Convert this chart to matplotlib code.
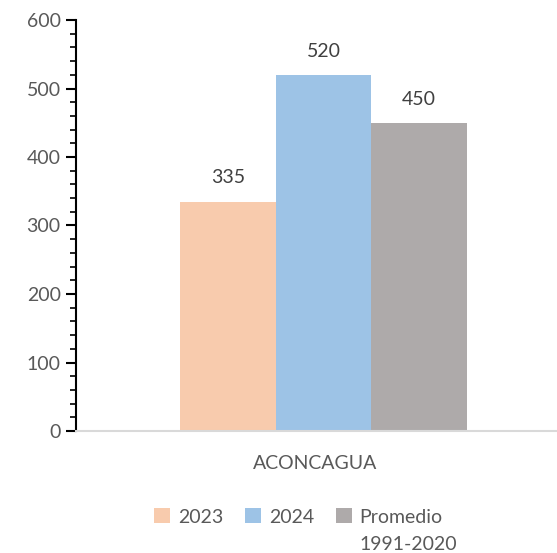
import matplotlib
matplotlib.use("Agg")
import matplotlib.pyplot as plt
from matplotlib.patches import Patch
from matplotlib.ticker import MultipleLocator

plt.rcParams['font.family'] = ['Lato', 'DejaVu Sans']

category = "ACONCAGUA"
series_labels = ["2023", "2024", "Promedio"]
legend_second_line = "1991-2020"
series_values = [335, 520, 450]
series_colors = ["#f8cbad", "#9dc3e6", "#aeaaaa"]
yticks = [0, 100, 200, 300, 400, 500, 600]

FS = 14
W, H = 557, 553
fig = plt.figure(figsize=(W / 100, H / 100), dpi=100)
ax = fig.add_axes([76 / W, (H - 431) / H, (557 - 76) / W, (431 - 20) / H])

bar_w = 0.3
offsets = [-bar_w, 0, bar_w]
for off, val, col in zip(offsets, series_values, series_colors):
    ax.bar(off, val, width=bar_w, color=col)
    ax.text(off, val + 22, f"{val}", ha='center', va='bottom',
            fontsize=FS, color='#404040')

ax.set_xlim(-0.776, 0.732)
ax.set_ylim(0, 600)
ax.set_yticks(yticks)
ax.yaxis.set_minor_locator(MultipleLocator(20))
ax.set_xticks([-0.025])
ax.set_xticklabels([category])

for s in ['top', 'right']:
    ax.spines[s].set_visible(False)
ax.spines['left'].set_color('black')
ax.spines['left'].set_linewidth(1.5)
ax.spines['bottom'].set_color('#d9d9d9')
ax.spines['bottom'].set_linewidth(1.5)

ax.tick_params(axis='y', which='major', length=7, width=1.5, color='black',
               labelsize=FS, labelcolor='#595959', pad=4)
ax.tick_params(axis='y', which='minor', length=4, width=1.2, color='black')
ax.tick_params(axis='x', length=0, labelsize=FS, labelcolor='#595959', pad=17)

handles = [Patch(facecolor=c, edgecolor='none') for c in series_colors]
leg = fig.legend(handles, series_labels, loc='center', ncol=3,
                 bbox_to_anchor=(0.536, (H - 517) / H), frameon=False,
                 fontsize=FS, handlelength=0.8, handleheight=0.8,
                 handletextpad=0.4, columnspacing=1.15)
for t in leg.get_texts():
    t.set_color('#595959')

# second line of the third legend entry
fig.canvas.draw()
bb = leg.get_texts()[2].get_window_extent()
fig.text(bb.x0 / W, (bb.y0 - 10) / H, legend_second_line, ha='left', va='top',
         fontsize=FS, color='#595959')

fig.savefig("out.png", dpi=100)
